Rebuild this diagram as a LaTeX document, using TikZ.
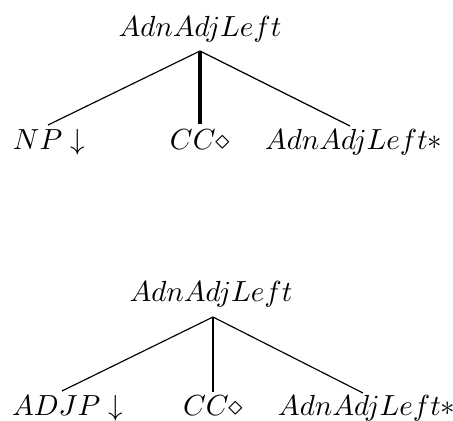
\documentclass[tikz,border=0pt]{standalone}
\begin{document}
\begin{tikzpicture}[x=0.344pt,y=-0.344pt,
  lbl/.style={inner sep=0pt,outer sep=0pt},
  edge/.style={line width=0.4pt},
  headedge/.style={line width=1.35pt},
  headedgeb/.style={line width=0.75pt}]
\useasboundingbox (0,0) rectangle (453,421);
% ---- top tree
\node[lbl,anchor=base] (r1) at (200,36) {$AdnAdjLeft$};
\coordinate (a1) at (200,51);
\node[lbl,anchor=base west] (l1) at (13,150) {$NP\downarrow$};
\node[lbl,anchor=base west] (m1) at (170,150) {$CC\diamond$};
\node[lbl,anchor=base west] (f1) at (265,150) {$AdnAdjLeft{*}$};
\coordinate (e1l) at (48,125);
\coordinate (e1m) at (200,124);
\coordinate (e1r) at (350,126);
\draw[edge] (a1) -- (e1l);
\draw[headedge] (a1) -- (e1m);
\draw[edge] (a1) -- (e1r);
% ---- bottom tree
\node[lbl,anchor=base] (r2) at (211,302) {$AdnAdjLeft$};
\coordinate (a2) at (213,317);
\node[lbl,anchor=base west] (l2) at (12,416) {$ADJP\downarrow$};
\node[lbl,anchor=base west] (m2) at (183,416) {$CC\diamond$};
\node[lbl,anchor=base west] (f2) at (278,416) {$AdnAdjLeft{*}$};
\coordinate (e2l) at (62,391);
\coordinate (e2m) at (213,392);
\coordinate (e2r) at (363,393);
\draw[edge] (a2) -- (e2l);
\draw[headedgeb] (a2) -- (e2m);
\draw[edge] (a2) -- (e2r);
\end{tikzpicture}
\end{document}
